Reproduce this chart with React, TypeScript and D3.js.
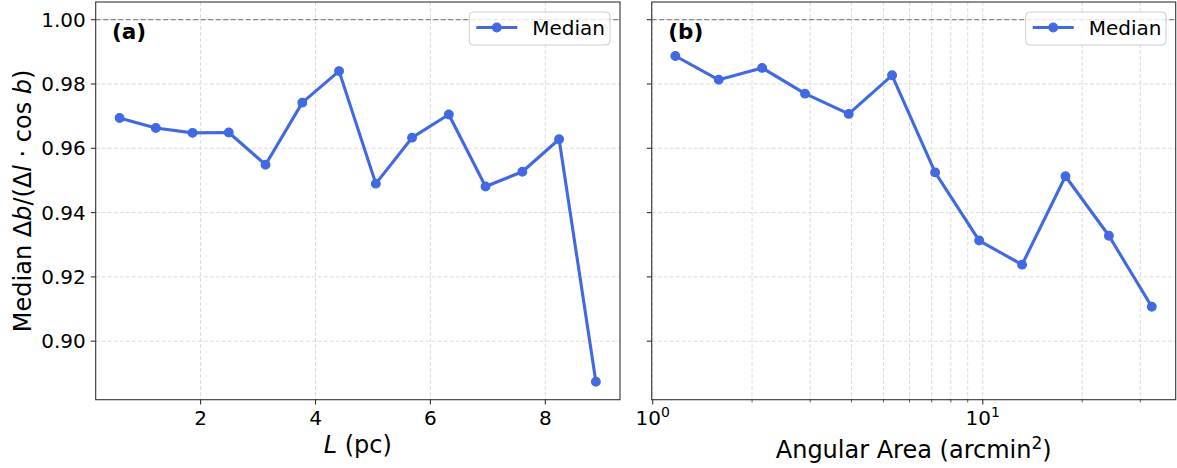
import React from 'react';
import * as d3 from 'd3';

// panel (a): median vs. length
const lengthPc = [0.59, 1.22, 1.86, 2.49, 3.13, 3.77, 4.41, 5.05, 5.68, 6.32, 6.96, 7.6, 8.24, 8.88];
const medianByLength = [0.9694, 0.9663, 0.9648, 0.9649, 0.9549, 0.9742, 0.984, 0.949, 0.9633, 0.9705, 0.9481, 0.9527, 0.9628, 0.8874];

// panel (b): median vs. angular area
const areaArcmin2 = [1.171, 1.585, 2.145, 2.894, 3.925, 5.31, 7.17, 9.75, 13.15, 17.8, 24.1, 32.5];
const medianByArea = [0.9887, 0.9813, 0.985, 0.977, 0.9707, 0.9827, 0.9525, 0.9313, 0.9238, 0.9513, 0.9328, 0.9107];

const yTicks = [0.9, 0.92, 0.94, 0.96, 0.98, 1.0];
const lengthTicks = [2, 4, 6, 8];
const areaMajor = [1, 10];
const areaMinor = [2, 3, 4, 5, 6, 7, 8, 9, 20, 30];
const legendLabel = 'Median';

const W = 1177;
const H = 468;
const top = 2;
const bottom = 399.7;
const panelA = { x0: 95.7, x1: 620 };
const panelB = { x0: 651.7, x1: 1175.7 };

const BLUE = '#4169E1';
const FONT = 'DejaVu Sans, sans-serif';
const GRID = '#d9d9d9';
const SPINE = '#333';
const TICK_FS = 20;

const y = d3.scaleLinear().domain([0.8818, 1.0055]).range([bottom, top]);
const xA = d3.scaleLinear().domain([0.174, 9.3]).range([panelA.x0, panelA.x1]);
const xB = d3.scaleLog().domain([0.993, 38.4]).range([panelB.x0, panelB.x1]);

const Legend = ({ x0, x1 }: { x0: number; x1: number }) => {
  const w = x1 - x0;
  return (
    <g>
      <rect x={x0} y={12} width={w} height={33} rx={4} fill="white" fillOpacity={0.8} stroke="#cccccc" strokeWidth={1} />
      <line x1={x0 + 7} x2={x0 + 48} y1={27.5} y2={27.5} stroke={BLUE} strokeWidth={3.1} />
      <circle cx={x0 + 27.5} cy={27.5} r={4.3} fill={BLUE} stroke={BLUE} strokeWidth={1.3} />
      <text x={x0 + 63} y={34.8} fontSize={20} fontFamily={FONT} fill="#000">{legendLabel}</text>
    </g>
  );
};

const Series = ({ xs, ys, sx }: { xs: number[]; ys: number[]; sx: (v: number) => number }) => {
  const pts: [number, number][] = xs.map((v, i) => [sx(v), y(ys[i])]);
  const line = d3.line()(pts) || '';
  return (
    <g>
      <path d={line} fill="none" stroke={BLUE} strokeWidth={3.1} strokeLinejoin="round" />
      {pts.map((p, i) => (
        <circle key={i} cx={p[0]} cy={p[1]} r={4.3} fill={BLUE} stroke={BLUE} strokeWidth={1.3} />
      ))}
    </g>
  );
};

const YGrid = ({ x0, x1, labels }: { x0: number; x1: number; labels: boolean }) => (
  <g>
    {yTicks.map((t) => (
      <g key={t}>
        <line x1={x0} x2={x1} y1={y(t)} y2={y(t)} stroke={GRID} strokeWidth={0.9} strokeDasharray="4,2" />
        <line x1={x0 - 4.9} x2={x0} y1={y(t)} y2={y(t)} stroke={SPINE} strokeWidth={1.1} />
        {labels && (
          <text x={x0 - 10} y={y(t) + 7.2} textAnchor="end" fontSize={TICK_FS} fontFamily={FONT} fill="#000">
            {t.toFixed(2)}
          </text>
        )}
      </g>
    ))}
    <line x1={x0} x2={x1} y1={y(1)} y2={y(1)} stroke="#888" strokeWidth={1.2} strokeDasharray="5,2.5" />
  </g>
);

const Frame = ({ x0, x1 }: { x0: number; x1: number }) => (
  <rect x={x0} y={top} width={x1 - x0} height={bottom - top} fill="none" stroke={SPINE} strokeWidth={1.1} />
);

const App = () => {
  return (
    <svg width={W} height={H} style={{ position: 'absolute', left: 0, top: 0, display: 'block', background: 'white' }}>
      {/* panel (a) */}
      <g>
        {lengthTicks.map((t) => (
          <g key={t}>
            <line x1={xA(t)} x2={xA(t)} y1={top} y2={bottom} stroke={GRID} strokeWidth={0.9} strokeDasharray="4,2" />
            <line x1={xA(t)} x2={xA(t)} y1={bottom} y2={bottom + 4.9} stroke={SPINE} strokeWidth={1.1} />
            <text x={xA(t)} y={425} textAnchor="middle" fontSize={TICK_FS} fontFamily={FONT} fill="#000">{t}</text>
          </g>
        ))}
        <YGrid x0={panelA.x0} x1={panelA.x1} labels={true} />
        <Series xs={lengthPc} ys={medianByLength} sx={xA} />
        <Frame x0={panelA.x0} x1={panelA.x1} />
        <Legend x0={469.3} x1={610} />
        <text x={112} y={38.5} fontSize={21.5} fontWeight="bold" fontFamily={FONT} fill="#000">(a)</text>
        <text x={(panelA.x0 + panelA.x1) / 2} y={453} textAnchor="middle" fontSize={24} fontFamily={FONT} fill="#000">
          <tspan fontStyle="italic">L</tspan> (pc)
        </text>
      </g>

      {/* panel (b) */}
      <g>
        {areaMinor.map((t) => (
          <g key={t}>
            <line x1={xB(t)} x2={xB(t)} y1={top} y2={bottom} stroke={GRID} strokeWidth={0.9} strokeDasharray="4,2" />
            <line x1={xB(t)} x2={xB(t)} y1={bottom} y2={bottom + 2.8} stroke={SPINE} strokeWidth={0.8} />
          </g>
        ))}
        {areaMajor.map((t, i) => (
          <g key={t}>
            <line x1={xB(t)} x2={xB(t)} y1={top} y2={bottom} stroke={GRID} strokeWidth={0.9} strokeDasharray="4,2" />
            <line x1={xB(t)} x2={xB(t)} y1={bottom} y2={bottom + 4.9} stroke={SPINE} strokeWidth={1.1} />
            <text x={xB(t)} y={425} textAnchor="middle" fontSize={TICK_FS} fontFamily={FONT} fill="#000">
              10<tspan dy={-8} fontSize={14}>{i}</tspan>
            </text>
          </g>
        ))}
        <YGrid x0={panelB.x0} x1={panelB.x1} labels={false} />
        <Series xs={areaArcmin2} ys={medianByArea} sx={xB} />
        <Frame x0={panelB.x0} x1={panelB.x1} />
        <Legend x0={1025.7} x1={1166} />
        <text x={668.3} y={38.5} fontSize={21.5} fontWeight="bold" fontFamily={FONT} fill="#000">(b)</text>
        <text x={(panelB.x0 + panelB.x1) / 2} y={458.3} textAnchor="middle" fontSize={24} fontFamily={FONT} fill="#000">
          Angular Area (arcmin<tspan dy={-9} fontSize={17}>2</tspan><tspan dy={9}>)</tspan>
        </text>
      </g>

      {/* shared y label */}
      <text
        transform={`translate(31,${(top + bottom) / 2}) rotate(-90)`}
        textAnchor="middle"
        fontSize={24}
        fontFamily={FONT}
        fill="#000"
      >
        Median Δ<tspan fontStyle="italic">b</tspan>/(Δ<tspan fontStyle="italic">l</tspan> · cos <tspan fontStyle="italic">b</tspan>)
      </text>
    </svg>
  );
};

export default App;
